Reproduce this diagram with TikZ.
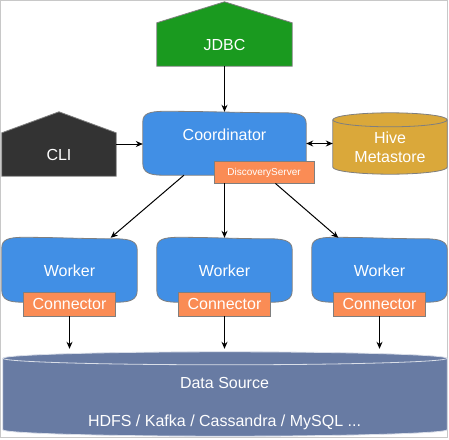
\documentclass[tikz,border=0pt]{standalone}
\usepackage{fontspec}
\setmainfont{Liberation Sans}
\usetikzlibrary{arrows.meta,calc}
\definecolor{cblue}{HTML}{418FE5}
\definecolor{cgreen}{HTML}{1A9A1F}
\definecolor{cdark}{HTML}{333333}
\definecolor{cgold}{HTML}{DAA83A}
\definecolor{corange}{HTML}{FA8C55}
\definecolor{cslate}{HTML}{687BA3}
\definecolor{cedge}{HTML}{7F7F7F}
\definecolor{cframe}{HTML}{C8C8C8}
\newcommand\bigf{\fontsize{16}{19}\selectfont}
\newcommand\smallf{\fontsize{10}{12}\selectfont}
% decorative outlines drawn from the node anchors
\newcommand\tapepath[2]{%
 \path[fill=#2,draw=cedge,line width=0.8pt] let \p1=(#1.north west),\p2=(#1.south east) in
  (\x1,\y1-10pt) .. controls (\x1,\y1-2pt) and (\x1+6pt,\y1+0.5pt) .. (\x1+22pt,\y1+0.5pt)
  .. controls ({0.6*\x1+0.4*\x2},\y1+0.5pt) and ({0.4*\x1+0.6*\x2},\y1-1pt) .. (\x2-22pt,\y1-1pt)
  .. controls (\x2-6pt,\y1-1pt) and (\x2,\y1-4pt) .. (\x2,\y1-12pt)
  -- (\x2,\y2+12pt) .. controls (\x2,\y2+3pt) and (\x2-6pt,\y2) .. (\x2-20pt,\y2)
  -- (\x1+20pt,\y2) .. controls (\x1+6pt,\y2) and (\x1,\y2+3pt) .. (\x1,\y2+12pt) -- cycle;}
\newcommand\housepath[3]{%
 \path[fill=#2,draw=cedge,line width=0.8pt] let \p1=(#1.north west),\p2=(#1.south east),\p3=(#1.north) in
  (\x1,\y1-#3pt) -- (\p3) -- (\x2,\y1-#3pt) -- (\p2) -- (\x1,\y2) -- cycle;}
\newcommand\cylpath[4]{% node, fill, ry, edge
 \path[fill=#2,draw=#4,line width=0.8pt] let \p1=(#1.north west),\p2=(#1.south east) in
  (\x1,\y1-#3pt) -- (\x1,\y2+#3pt)
  arc[start angle=180,end angle=360,x radius={(\x2-\x1)/2},y radius=#3pt]
  -- (\x2,\y1-#3pt)
  arc[start angle=0,end angle=180,x radius={(\x2-\x1)/2},y radius=#3pt] -- cycle;
 \path[draw=#4,line width=0.8pt] let \p1=(#1.north west),\p2=(#1.south east) in
  (\x1,\y1-#3pt) arc[start angle=180,end angle=360,x radius={(\x2-\x1)/2},y radius=#3pt];}
\tikzset{
  holder/.style={rectangle,draw=none,inner sep=0pt,minimum width=#1},
  txt/.style={text=white,font=\bigf,inner sep=0pt,text height=11.5pt,text depth=0pt},
  orangebox/.style={rectangle,fill=corange,draw=cedge,line width=0.8pt,inner sep=0pt,
    text=white,text height=11.5pt,text depth=0pt,font=\bigf,minimum width=92pt,minimum height=24pt},
  arr/.style={draw=black,line width=1pt,-{Stealth[length=7pt,width=6pt]}},
  darr/.style={draw=black,line width=1pt,{Stealth[length=7pt,width=6pt]}-{Stealth[length=7pt,width=6pt]}},
}
\begin{document}
\begin{tikzpicture}[x=1pt,y=-1pt]
\useasboundingbox (0,0) rectangle (449,439);
\draw[cframe,line width=1pt] (0.5,0.5) rectangle (447.5,437.5);
% shape holders
\node[holder=135pt,minimum height=64pt] (jdbc) at (224.5,34) {};
\node[holder=114pt,minimum height=64pt] (cli) at (59,144) {};
\node[holder=163pt,minimum height=63pt] (coord) at (224.5,143.5) {};
\node[holder=114pt,minimum height=61pt] (hive) at (390,143.5) {};
\node[holder=135pt,minimum height=64pt] (w1) at (69.5,270) {};
\node[holder=135pt,minimum height=64pt] (w2) at (224.5,270) {};
\node[holder=135pt,minimum height=64pt] (w3) at (379.5,270) {};
\node[holder=444pt,minimum height=84pt] (data) at (225,394) {};
% outlines
\housepath{jdbc}{cgreen}{21}
\housepath{cli}{cdark}{21}
\tapepath{coord}{cblue}
\cylpath{hive}{cgold}{7}{cedge}
\tapepath{w1}{cblue}
\tapepath{w2}{cblue}
\tapepath{w3}{cblue}
\cylpath{data}{cslate}{6.5}{white!75!cslate}
% texts
\node[txt] (jdbct) at (224.5,45) {JDBC};
\node[txt] (clit) at (59,155) {CLI};
\node[txt] (coordt) at (224.5,135) {Coordinator};
\node[text=white,font=\bigf,inner sep=0pt,align=center] (hivet) at (390,147) {Hive\\Metastore};
\node[txt] (w1t) at (69.5,271) {Worker};
\node[txt] (w2t) at (224.5,271) {Worker};
\node[txt] (w3t) at (379.5,271) {Worker};
\node[txt] (datat) at (224.5,383) {Data Source};
\node[txt] (datas) at (224.5,421) {HDFS / Kafka / Cassandra / MySQL ...};
% orange boxes
\node[orangebox,minimum width=100pt,minimum height=22pt,font=\smallf,text height=7.2pt] (ds) at (264,172) {DiscoveryServer};
\node[orangebox] (c1) at (69.5,304) {Connector};
\node[orangebox] (c2) at (224.5,304) {Connector};
\node[orangebox] (c3) at (379.5,304) {Connector};
% connectors
\draw[arr] (jdbc.south) -- (coord.north);
\draw[arr] (cli.east) -- (cli.east -| coord.west);
\draw[darr] (coord.east) -- (hive.west);
\draw[arr] (coord.218.6) -- (w1.38.3);
\draw[arr] (ds.south -| w2.north) -- (w2.north);
\draw[arr] (ds.-45) -- (w3.142.4);
\draw[arr,shorten >=3pt] (c1.south) -- (c1.south |- data.north);
\draw[arr,shorten >=3pt] (c2.south) -- (c2.south |- data.north);
\draw[arr,shorten >=3pt] (c3.south) -- (c3.south |- data.north);
\end{tikzpicture}
\end{document}
